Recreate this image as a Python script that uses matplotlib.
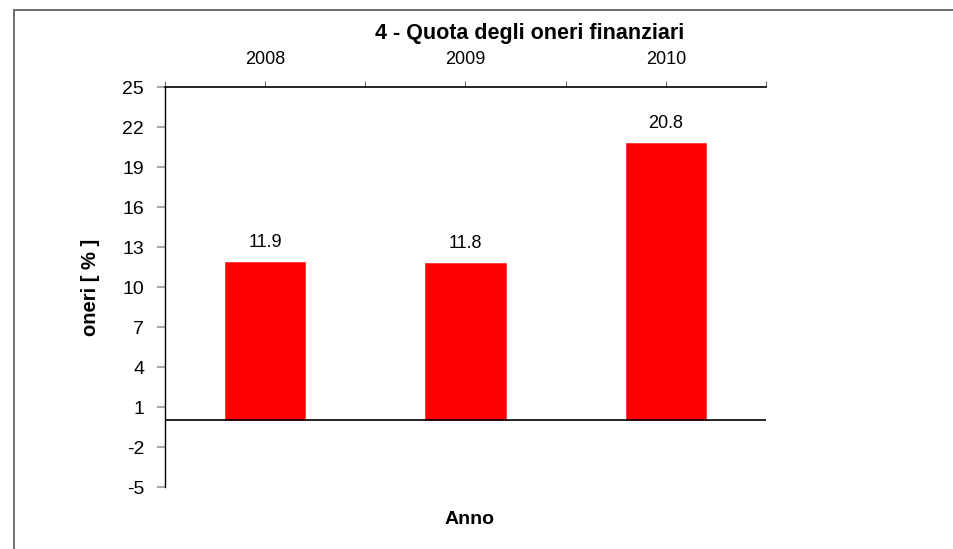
import matplotlib
matplotlib.use('Agg')
import matplotlib.pyplot as plt
from matplotlib.patches import Rectangle

years = ['2008', '2009', '2010']
oneri = [11.9, 11.8, 20.8]
y_ticks = [-5, -2, 1, 4, 7, 10, 13, 16, 19, 22, 25]

plt.rcParams['font.family'] = ['Liberation Sans', 'DejaVu Sans']
plt.rcParams['axes.unicode_minus'] = False

fig = plt.figure(figsize=(9.54, 5.49), dpi=100)
ax = fig.add_axes([165 / 954, 62 / 549, 601 / 954, 400 / 549])

# gray frame around the chart area (cut off at right/bottom)
fig.patches.append(Rectangle((14.5 / 954, -0.2), 2.0, (549 - 9.5) / 549 + 0.2,
                             transform=fig.transFigure, fill=False,
                             edgecolor='#555555', linewidth=1.2))

x = list(range(len(years)))
ax.bar(x, oneri, width=0.4, color='#ff0000', edgecolor='#ff3333', linewidth=0.6, zorder=2)
for xi, v in zip(x, oneri):
  ax.annotate(f'{v:.1f}', (xi, v), xytext=(0, 8), textcoords='offset points',
              ha='center', va='bottom', fontsize=13)

ax.axhline(0, color='black', linewidth=1.2, zorder=3)

ax.set_xlim(-0.5, 2.5)
ax.set_ylim(-5, 25)
ax.set_yticks(y_ticks)
ax.tick_params(axis='y', labelsize=14, length=6, width=1.2, color='#999999', pad=9)

ax.xaxis.tick_top()
ax.set_xticks([-0.5, 0.5, 1.5, 2.5])
ax.set_xticklabels([])
ax.set_xticks(x, minor=True)
ax.set_xticklabels(years, minor=True, fontsize=13)
ax.tick_params(axis='x', which='both', length=4, width=0.8, color='#666666', pad=10)

for s in ['right', 'bottom']:
  ax.spines[s].set_visible(False)
ax.spines['top'].set_linewidth(1.2)
ax.spines['left'].set_linewidth(1.0)

ax.set_ylabel('oneri [ % ]', fontsize=14.5, fontweight='bold', labelpad=16)
fig.text(470 / 954, 1 - 520 / 549, 'Anno', ha='center', va='center', fontsize=14, fontweight='bold')
fig.text(530 / 954, 1 - 34 / 549, '4 - Quota degli oneri finanziari', ha='center', va='center',
         fontsize=15.5, fontweight='bold')

fig.savefig('out.png', dpi=100)
